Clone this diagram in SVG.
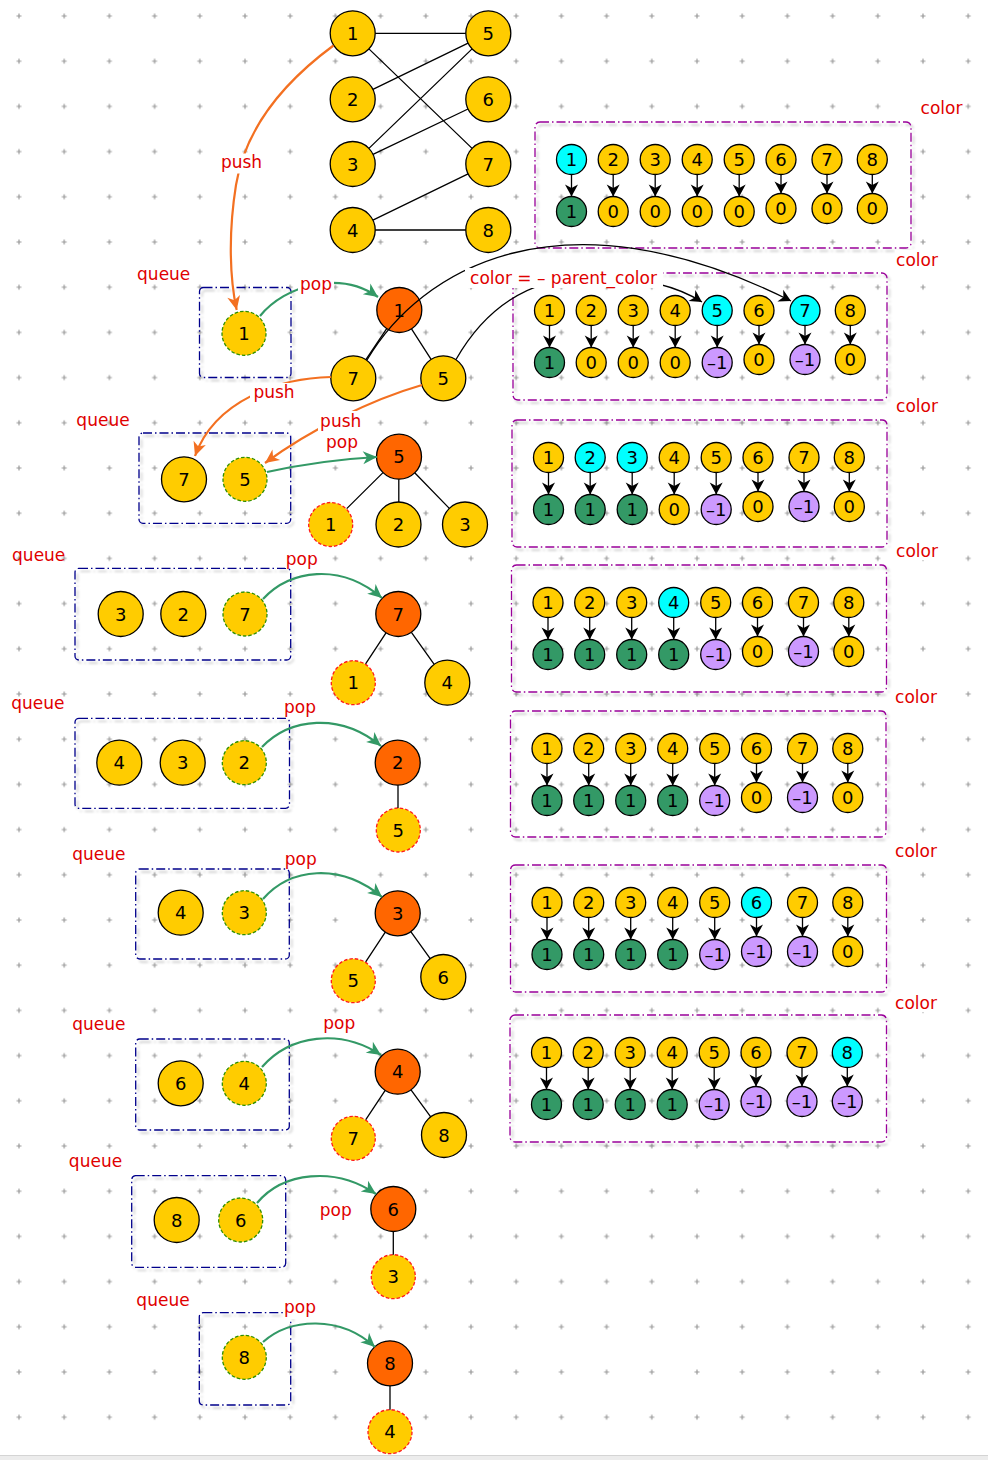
<svg xmlns="http://www.w3.org/2000/svg" width="988" height="1460" viewBox="0 0 988 1460">
<style>
  circle{stroke:#000;stroke-width:1.3}
  .y{fill:#ffcc00}
  .o{fill:#ff6600}
  .c{fill:#00ffff}
  .g{fill:#339966}
  .p{fill:#cc99ff}
  .dg{stroke:#2f8f00;stroke-dasharray:3.5 2}
  .dr{stroke:#ff1a1a;stroke-dasharray:3.5 2}
  text{font-family:"DejaVu Sans","Liberation Sans",sans-serif}
  .n{font-size:18px;text-anchor:middle;fill:#000}
  .l{font-size:17px;text-anchor:middle;fill:#e00000}
  .qb{fill:none;stroke:#00008b;stroke-width:1.3;stroke-dasharray:9 3 1.5 3;filter:url(#sh)}
  .cb{fill:none;stroke:#990099;stroke-width:1.3;stroke-dasharray:9 3 1.5 3;filter:url(#sh)}
  .e{fill:none;stroke:#000;stroke-width:1.3}
  .ar{fill:none;stroke:#000;stroke-width:1.3;marker-end:url(#ak)}
  .pop{fill:none;stroke:#339966;stroke-width:2.2;marker-end:url(#ag)}
  .push{fill:none;stroke:#f37021;stroke-width:2.2;marker-end:url(#ao)}
  .bg{fill:#fff}
</style>
<defs>
  <pattern id="grid" patternUnits="userSpaceOnUse" x="-3.6" y="-6.6" width="45.2" height="45.2">
    <path d="M20.1,22.6h5M22.6,20.1v5" stroke="#9a9a9a" stroke-width="1.2"/>
  </pattern>
  <filter id="sh" x="-5%" y="-5%" width="115%" height="120%">
    <feDropShadow dx="2.5" dy="3" stdDeviation="1.2" flood-color="#000" flood-opacity="0.22"/>
  </filter>
  <marker id="ak" markerUnits="userSpaceOnUse" markerWidth="14" markerHeight="14" refX="12" refY="7" orient="auto" overflow="visible">
    <path d="M0,0.5L12,7L0,13.5L3.5,7Z" fill="#000"/>
  </marker>
  <marker id="ag" markerUnits="userSpaceOnUse" markerWidth="16" markerHeight="14" refX="14" refY="7" orient="auto" overflow="visible">
    <path d="M0,0.5L14,7L0,13.5L4,7Z" fill="#339966"/>
  </marker>
  <marker id="ao" markerUnits="userSpaceOnUse" markerWidth="16" markerHeight="14" refX="14" refY="7" orient="auto" overflow="visible">
    <path d="M0,0.5L14,7L0,13.5L4,7Z" fill="#f37021"/>
  </marker>
  <!-- the eight index -> colour arrows of one colour array -->
  <g id="col-arrows">
    <path class="ar" d="M36.5,52.5V74.5"/>
    <path class="ar" d="M78.2,52.5V74.5"/>
    <path class="ar" d="M120.2,52.5V74.5"/>
    <path class="ar" d="M162.2,52.5V74.5"/>
    <path class="ar" d="M204.2,52.5V74.5"/>
    <path class="ar" d="M246,52.5V71.5"/>
    <path class="ar" d="M292,52.5V71.5"/>
    <path class="ar" d="M337.3,52.5V71.5"/>
  </g>
</defs>

<rect width="988" height="1460" fill="#fff"/>
<rect width="988" height="1460" fill="url(#grid)"/>
<rect x="0" y="1455" width="988" height="5" fill="#ececec"/>
<path d="M0,1455.5H988" stroke="#d4d4d4" stroke-width="1"/>

<!-- bipartite graph -->
<g id="graph">
  <g id="g-1"><circle class="y" cx="352.7" cy="33.3" r="22.5"/><text class="n" x="352.7" y="39.8">1</text></g>
  <g id="g-2"><circle class="y" cx="352.7" cy="99.3" r="22.5"/><text class="n" x="352.7" y="105.8">2</text></g>
  <g id="g-3"><circle class="y" cx="352.7" cy="164" r="22.5"/><text class="n" x="352.7" y="170.5">3</text></g>
  <g id="g-4"><circle class="y" cx="352.7" cy="230" r="22.5"/><text class="n" x="352.7" y="236.5">4</text></g>
  <g id="g-5"><circle class="y" cx="488.3" cy="33.3" r="22.5"/><text class="n" x="488.3" y="39.8">5</text></g>
  <g id="g-6"><circle class="y" cx="488.3" cy="99.3" r="22.5"/><text class="n" x="488.3" y="105.8">6</text></g>
  <g id="g-7"><circle class="y" cx="488.3" cy="164" r="22.5"/><text class="n" x="488.3" y="170.5">7</text></g>
  <g id="g-8"><circle class="y" cx="488.3" cy="230" r="22.5"/><text class="n" x="488.3" y="236.5">8</text></g>
</g>

<!-- queues -->
<g id="queue-1">
  <rect class="qb" x="199.5" y="287.5" width="91.5" height="90" rx="4"/>
  <g id="q1-1"><circle class="y dg" cx="244" cy="333.3" r="22"/><text class="n" x="244" y="339.8">1</text></g>
</g>
<g id="queue-2">
  <rect class="qb" x="139" y="433" width="151.7" height="90.3" rx="4"/>
  <g id="q2-7"><circle class="y" cx="184" cy="479.3" r="22.5"/><text class="n" x="184" y="485.8">7</text></g>
  <g id="q2-5"><circle class="y dg" cx="245" cy="479.3" r="22"/><text class="n" x="245" y="485.8">5</text></g>
</g>
<g id="queue-3">
  <rect class="qb" x="75" y="568.3" width="215.7" height="91.7" rx="4"/>
  <g id="q3-3"><circle class="y" cx="120.7" cy="614" r="22.5"/><text class="n" x="120.7" y="620.5">3</text></g>
  <g id="q3-2"><circle class="y" cx="183.3" cy="614" r="22.5"/><text class="n" x="183.3" y="620.5">2</text></g>
  <g id="q3-7"><circle class="y dg" cx="245" cy="614" r="22"/><text class="n" x="245" y="620.5">7</text></g>
</g>
<g id="queue-4">
  <rect class="qb" x="75" y="718.3" width="214.5" height="90" rx="4"/>
  <g id="q4-4"><circle class="y" cx="119.3" cy="762.7" r="22.5"/><text class="n" x="119.3" y="769.2">4</text></g>
  <g id="q4-3"><circle class="y" cx="182.7" cy="762.7" r="22.5"/><text class="n" x="182.7" y="769.2">3</text></g>
  <g id="q4-2"><circle class="y dg" cx="244.3" cy="762.7" r="22"/><text class="n" x="244.3" y="769.2">2</text></g>
</g>
<g id="queue-5">
  <rect class="qb" x="135.7" y="869" width="153.6" height="90" rx="4"/>
  <g id="q5-4"><circle class="y" cx="180.7" cy="912.7" r="22.5"/><text class="n" x="180.7" y="919.2">4</text></g>
  <g id="q5-3"><circle class="y dg" cx="244.3" cy="912.7" r="22"/><text class="n" x="244.3" y="919.2">3</text></g>
</g>
<g id="queue-6">
  <rect class="qb" x="135.7" y="1039" width="153.6" height="91" rx="4"/>
  <g id="q6-6"><circle class="y" cx="180.7" cy="1083.3" r="22.5"/><text class="n" x="180.7" y="1089.8">6</text></g>
  <g id="q6-4"><circle class="y dg" cx="244.3" cy="1083.3" r="22"/><text class="n" x="244.3" y="1089.8">4</text></g>
</g>
<g id="queue-7">
  <rect class="qb" x="131.7" y="1175.7" width="154" height="91.6" rx="4"/>
  <g id="q7-8"><circle class="y" cx="176.7" cy="1220" r="22.5"/><text class="n" x="176.7" y="1226.5">8</text></g>
  <g id="q7-6"><circle class="y dg" cx="240.7" cy="1220" r="22"/><text class="n" x="240.7" y="1226.5">6</text></g>
</g>
<g id="queue-8">
  <rect class="qb" x="199.3" y="1312.7" width="91.4" height="92.3" rx="4"/>
  <g id="q8-8"><circle class="y dg" cx="244.3" cy="1357.3" r="22"/><text class="n" x="244.3" y="1363.8">8</text></g>
</g>

<!-- popped vertex and its neighbours -->
<g id="tree-1">
  <g id="t1-1"><circle class="o" cx="399.3" cy="310" r="22.5"/><text class="n" x="399.3" y="316.5">1</text></g>
  <g id="t1-7"><circle class="y" cx="353.3" cy="378.3" r="22.5"/><text class="n" x="353.3" y="384.8">7</text></g>
  <g id="t1-5"><circle class="y" cx="443.3" cy="378.3" r="22.5"/><text class="n" x="443.3" y="384.8">5</text></g>
</g>
<g id="tree-2">
  <g id="t2-5"><circle class="o" cx="399" cy="456.7" r="22.5"/><text class="n" x="399" y="463.2">5</text></g>
  <g id="t2-1"><circle class="y dr" cx="330.7" cy="524.5" r="22"/><text class="n" x="330.7" y="531">1</text></g>
  <g id="t2-2"><circle class="y" cx="398.5" cy="524.5" r="22.5"/><text class="n" x="398.5" y="531">2</text></g>
  <g id="t2-3"><circle class="y" cx="465" cy="524.5" r="22.5"/><text class="n" x="465" y="531">3</text></g>
</g>
<g id="tree-3">
  <g id="t3-7"><circle class="o" cx="398.3" cy="614" r="22.5"/><text class="n" x="398.3" y="620.5">7</text></g>
  <g id="t3-1"><circle class="y dr" cx="353.3" cy="682.7" r="22"/><text class="n" x="353.3" y="689.2">1</text></g>
  <g id="t3-4"><circle class="y" cx="447.3" cy="682.7" r="22.5"/><text class="n" x="447.3" y="689.2">4</text></g>
</g>
<g id="tree-4">
  <g id="t4-2"><circle class="o" cx="397.7" cy="762.7" r="22.5"/><text class="n" x="397.7" y="769.2">2</text></g>
  <g id="t4-5"><circle class="y dr" cx="398.3" cy="830" r="22"/><text class="n" x="398.3" y="836.5">5</text></g>
</g>
<g id="tree-5">
  <g id="t5-3"><circle class="o" cx="397.7" cy="913.3" r="22.5"/><text class="n" x="397.7" y="919.8">3</text></g>
  <g id="t5-5"><circle class="y dr" cx="353.3" cy="980.7" r="22"/><text class="n" x="353.3" y="987.2">5</text></g>
  <g id="t5-6"><circle class="y" cx="443.3" cy="977" r="22.5"/><text class="n" x="443.3" y="983.5">6</text></g>
</g>
<g id="tree-6">
  <g id="t6-4"><circle class="o" cx="397.7" cy="1071.7" r="22.5"/><text class="n" x="397.7" y="1078.2">4</text></g>
  <g id="t6-7"><circle class="y dr" cx="353.3" cy="1138.3" r="22"/><text class="n" x="353.3" y="1144.8">7</text></g>
  <g id="t6-8"><circle class="y" cx="444" cy="1135" r="22.5"/><text class="n" x="444" y="1141.5">8</text></g>
</g>
<g id="tree-7">
  <g id="t7-6"><circle class="o" cx="393.3" cy="1209" r="22.5"/><text class="n" x="393.3" y="1215.5">6</text></g>
  <g id="t7-3"><circle class="y dr" cx="393.3" cy="1276.7" r="22"/><text class="n" x="393.3" y="1283.2">3</text></g>
</g>
<g id="tree-8">
  <g id="t8-8"><circle class="o" cx="390" cy="1363.3" r="22.5"/><text class="n" x="390" y="1369.8">8</text></g>
  <g id="t8-4"><circle class="y dr" cx="390" cy="1431.7" r="22"/><text class="n" x="390" y="1438.2">4</text></g>
</g>

<!-- colour arrays: index row on top, colour value row below -->
<g id="colors-1" transform="translate(535,122)">
  <rect class="cb" width="376" height="126" rx="5"/>
  <g id="c1-i1"><circle class="c" cx="36.5" cy="37.5" r="15"/><text class="n" x="36.5" y="44">1</text></g>
  <g id="c1-i2"><circle class="y" cx="78.2" cy="37.5" r="15"/><text class="n" x="78.2" y="44">2</text></g>
  <g id="c1-i3"><circle class="y" cx="120.2" cy="37.5" r="15"/><text class="n" x="120.2" y="44">3</text></g>
  <g id="c1-i4"><circle class="y" cx="162.2" cy="37.5" r="15"/><text class="n" x="162.2" y="44">4</text></g>
  <g id="c1-i5"><circle class="y" cx="204.2" cy="37.5" r="15"/><text class="n" x="204.2" y="44">5</text></g>
  <g id="c1-i6"><circle class="y" cx="246" cy="37.5" r="15"/><text class="n" x="246" y="44">6</text></g>
  <g id="c1-i7"><circle class="y" cx="292" cy="37.5" r="15"/><text class="n" x="292" y="44">7</text></g>
  <g id="c1-i8"><circle class="y" cx="337.3" cy="37.5" r="15"/><text class="n" x="337.3" y="44">8</text></g>
  <g id="c1-v1"><circle class="g" cx="36.5" cy="89.5" r="15"/><text class="n" x="36.5" y="96">1</text></g>
  <g id="c1-v2"><circle class="y" cx="78.2" cy="89.5" r="15"/><text class="n" x="78.2" y="96">0</text></g>
  <g id="c1-v3"><circle class="y" cx="120.2" cy="89.5" r="15"/><text class="n" x="120.2" y="96">0</text></g>
  <g id="c1-v4"><circle class="y" cx="162.2" cy="89.5" r="15"/><text class="n" x="162.2" y="96">0</text></g>
  <g id="c1-v5"><circle class="y" cx="204.2" cy="89.5" r="15"/><text class="n" x="204.2" y="96">0</text></g>
  <g id="c1-v6"><circle class="y" cx="246" cy="86.5" r="15"/><text class="n" x="246" y="93">0</text></g>
  <g id="c1-v7"><circle class="y" cx="292" cy="86.5" r="15"/><text class="n" x="292" y="93">0</text></g>
  <g id="c1-v8"><circle class="y" cx="337.3" cy="86.5" r="15"/><text class="n" x="337.3" y="93">0</text></g>
</g>
<g id="colors-2" transform="translate(513,273)">
  <rect class="cb" width="374" height="127" rx="5"/>
  <g id="c2-i1"><circle class="y" cx="36.5" cy="37.5" r="15"/><text class="n" x="36.5" y="44">1</text></g>
  <g id="c2-i2"><circle class="y" cx="78.2" cy="37.5" r="15"/><text class="n" x="78.2" y="44">2</text></g>
  <g id="c2-i3"><circle class="y" cx="120.2" cy="37.5" r="15"/><text class="n" x="120.2" y="44">3</text></g>
  <g id="c2-i4"><circle class="y" cx="162.2" cy="37.5" r="15"/><text class="n" x="162.2" y="44">4</text></g>
  <g id="c2-i5"><circle class="c" cx="204.2" cy="37.5" r="15"/><text class="n" x="204.2" y="44">5</text></g>
  <g id="c2-i6"><circle class="y" cx="246" cy="37.5" r="15"/><text class="n" x="246" y="44">6</text></g>
  <g id="c2-i7"><circle class="c" cx="292" cy="37.5" r="15"/><text class="n" x="292" y="44">7</text></g>
  <g id="c2-i8"><circle class="y" cx="337.3" cy="37.5" r="15"/><text class="n" x="337.3" y="44">8</text></g>
  <g id="c2-v1"><circle class="g" cx="36.5" cy="89.5" r="15"/><text class="n" x="36.5" y="96">1</text></g>
  <g id="c2-v2"><circle class="y" cx="78.2" cy="89.5" r="15"/><text class="n" x="78.2" y="96">0</text></g>
  <g id="c2-v3"><circle class="y" cx="120.2" cy="89.5" r="15"/><text class="n" x="120.2" y="96">0</text></g>
  <g id="c2-v4"><circle class="y" cx="162.2" cy="89.5" r="15"/><text class="n" x="162.2" y="96">0</text></g>
  <g id="c2-v5"><circle class="p" cx="204.2" cy="89.5" r="15"/><text class="n" x="204.2" y="96">–1</text></g>
  <g id="c2-v6"><circle class="y" cx="246" cy="86.5" r="15"/><text class="n" x="246" y="93">0</text></g>
  <g id="c2-v7"><circle class="p" cx="292" cy="86.5" r="15"/><text class="n" x="292" y="93">–1</text></g>
  <g id="c2-v8"><circle class="y" cx="337.3" cy="86.5" r="15"/><text class="n" x="337.3" y="93">0</text></g>
</g>
<g id="colors-3" transform="translate(512,420)">
  <rect class="cb" width="375" height="127" rx="5"/>
  <g id="c3-i1"><circle class="y" cx="36.5" cy="37.5" r="15"/><text class="n" x="36.5" y="44">1</text></g>
  <g id="c3-i2"><circle class="c" cx="78.2" cy="37.5" r="15"/><text class="n" x="78.2" y="44">2</text></g>
  <g id="c3-i3"><circle class="c" cx="120.2" cy="37.5" r="15"/><text class="n" x="120.2" y="44">3</text></g>
  <g id="c3-i4"><circle class="y" cx="162.2" cy="37.5" r="15"/><text class="n" x="162.2" y="44">4</text></g>
  <g id="c3-i5"><circle class="y" cx="204.2" cy="37.5" r="15"/><text class="n" x="204.2" y="44">5</text></g>
  <g id="c3-i6"><circle class="y" cx="246" cy="37.5" r="15"/><text class="n" x="246" y="44">6</text></g>
  <g id="c3-i7"><circle class="y" cx="292" cy="37.5" r="15"/><text class="n" x="292" y="44">7</text></g>
  <g id="c3-i8"><circle class="y" cx="337.3" cy="37.5" r="15"/><text class="n" x="337.3" y="44">8</text></g>
  <g id="c3-v1"><circle class="g" cx="36.5" cy="89.5" r="15"/><text class="n" x="36.5" y="96">1</text></g>
  <g id="c3-v2"><circle class="g" cx="78.2" cy="89.5" r="15"/><text class="n" x="78.2" y="96">1</text></g>
  <g id="c3-v3"><circle class="g" cx="120.2" cy="89.5" r="15"/><text class="n" x="120.2" y="96">1</text></g>
  <g id="c3-v4"><circle class="y" cx="162.2" cy="89.5" r="15"/><text class="n" x="162.2" y="96">0</text></g>
  <g id="c3-v5"><circle class="p" cx="204.2" cy="89.5" r="15"/><text class="n" x="204.2" y="96">–1</text></g>
  <g id="c3-v6"><circle class="y" cx="246" cy="86.5" r="15"/><text class="n" x="246" y="93">0</text></g>
  <g id="c3-v7"><circle class="p" cx="292" cy="86.5" r="15"/><text class="n" x="292" y="93">–1</text></g>
  <g id="c3-v8"><circle class="y" cx="337.3" cy="86.5" r="15"/><text class="n" x="337.3" y="93">0</text></g>
</g>
<g id="colors-4" transform="translate(511.5,565)">
  <rect class="cb" width="375" height="127" rx="5"/>
  <g id="c4-i1"><circle class="y" cx="36.5" cy="37.5" r="15"/><text class="n" x="36.5" y="44">1</text></g>
  <g id="c4-i2"><circle class="y" cx="78.2" cy="37.5" r="15"/><text class="n" x="78.2" y="44">2</text></g>
  <g id="c4-i3"><circle class="y" cx="120.2" cy="37.5" r="15"/><text class="n" x="120.2" y="44">3</text></g>
  <g id="c4-i4"><circle class="c" cx="162.2" cy="37.5" r="15"/><text class="n" x="162.2" y="44">4</text></g>
  <g id="c4-i5"><circle class="y" cx="204.2" cy="37.5" r="15"/><text class="n" x="204.2" y="44">5</text></g>
  <g id="c4-i6"><circle class="y" cx="246" cy="37.5" r="15"/><text class="n" x="246" y="44">6</text></g>
  <g id="c4-i7"><circle class="y" cx="292" cy="37.5" r="15"/><text class="n" x="292" y="44">7</text></g>
  <g id="c4-i8"><circle class="y" cx="337.3" cy="37.5" r="15"/><text class="n" x="337.3" y="44">8</text></g>
  <g id="c4-v1"><circle class="g" cx="36.5" cy="89.5" r="15"/><text class="n" x="36.5" y="96">1</text></g>
  <g id="c4-v2"><circle class="g" cx="78.2" cy="89.5" r="15"/><text class="n" x="78.2" y="96">1</text></g>
  <g id="c4-v3"><circle class="g" cx="120.2" cy="89.5" r="15"/><text class="n" x="120.2" y="96">1</text></g>
  <g id="c4-v4"><circle class="g" cx="162.2" cy="89.5" r="15"/><text class="n" x="162.2" y="96">1</text></g>
  <g id="c4-v5"><circle class="p" cx="204.2" cy="89.5" r="15"/><text class="n" x="204.2" y="96">–1</text></g>
  <g id="c4-v6"><circle class="y" cx="246" cy="86.5" r="15"/><text class="n" x="246" y="93">0</text></g>
  <g id="c4-v7"><circle class="p" cx="292" cy="86.5" r="15"/><text class="n" x="292" y="93">–1</text></g>
  <g id="c4-v8"><circle class="y" cx="337.3" cy="86.5" r="15"/><text class="n" x="337.3" y="93">0</text></g>
</g>
<g id="colors-5" transform="translate(510.5,711)">
  <rect class="cb" width="375.5" height="126" rx="5"/>
  <g id="c5-i1"><circle class="y" cx="36.5" cy="37.5" r="15"/><text class="n" x="36.5" y="44">1</text></g>
  <g id="c5-i2"><circle class="y" cx="78.2" cy="37.5" r="15"/><text class="n" x="78.2" y="44">2</text></g>
  <g id="c5-i3"><circle class="y" cx="120.2" cy="37.5" r="15"/><text class="n" x="120.2" y="44">3</text></g>
  <g id="c5-i4"><circle class="y" cx="162.2" cy="37.5" r="15"/><text class="n" x="162.2" y="44">4</text></g>
  <g id="c5-i5"><circle class="y" cx="204.2" cy="37.5" r="15"/><text class="n" x="204.2" y="44">5</text></g>
  <g id="c5-i6"><circle class="y" cx="246" cy="37.5" r="15"/><text class="n" x="246" y="44">6</text></g>
  <g id="c5-i7"><circle class="y" cx="292" cy="37.5" r="15"/><text class="n" x="292" y="44">7</text></g>
  <g id="c5-i8"><circle class="y" cx="337.3" cy="37.5" r="15"/><text class="n" x="337.3" y="44">8</text></g>
  <g id="c5-v1"><circle class="g" cx="36.5" cy="89.5" r="15"/><text class="n" x="36.5" y="96">1</text></g>
  <g id="c5-v2"><circle class="g" cx="78.2" cy="89.5" r="15"/><text class="n" x="78.2" y="96">1</text></g>
  <g id="c5-v3"><circle class="g" cx="120.2" cy="89.5" r="15"/><text class="n" x="120.2" y="96">1</text></g>
  <g id="c5-v4"><circle class="g" cx="162.2" cy="89.5" r="15"/><text class="n" x="162.2" y="96">1</text></g>
  <g id="c5-v5"><circle class="p" cx="204.2" cy="89.5" r="15"/><text class="n" x="204.2" y="96">–1</text></g>
  <g id="c5-v6"><circle class="y" cx="246" cy="86.5" r="15"/><text class="n" x="246" y="93">0</text></g>
  <g id="c5-v7"><circle class="p" cx="292" cy="86.5" r="15"/><text class="n" x="292" y="93">–1</text></g>
  <g id="c5-v8"><circle class="y" cx="337.3" cy="86.5" r="15"/><text class="n" x="337.3" y="93">0</text></g>
</g>
<g id="colors-6" transform="translate(510.5,865)">
  <rect class="cb" width="376" height="127" rx="5"/>
  <g id="c6-i1"><circle class="y" cx="36.5" cy="37.5" r="15"/><text class="n" x="36.5" y="44">1</text></g>
  <g id="c6-i2"><circle class="y" cx="78.2" cy="37.5" r="15"/><text class="n" x="78.2" y="44">2</text></g>
  <g id="c6-i3"><circle class="y" cx="120.2" cy="37.5" r="15"/><text class="n" x="120.2" y="44">3</text></g>
  <g id="c6-i4"><circle class="y" cx="162.2" cy="37.5" r="15"/><text class="n" x="162.2" y="44">4</text></g>
  <g id="c6-i5"><circle class="y" cx="204.2" cy="37.5" r="15"/><text class="n" x="204.2" y="44">5</text></g>
  <g id="c6-i6"><circle class="c" cx="246" cy="37.5" r="15"/><text class="n" x="246" y="44">6</text></g>
  <g id="c6-i7"><circle class="y" cx="292" cy="37.5" r="15"/><text class="n" x="292" y="44">7</text></g>
  <g id="c6-i8"><circle class="y" cx="337.3" cy="37.5" r="15"/><text class="n" x="337.3" y="44">8</text></g>
  <g id="c6-v1"><circle class="g" cx="36.5" cy="89.5" r="15"/><text class="n" x="36.5" y="96">1</text></g>
  <g id="c6-v2"><circle class="g" cx="78.2" cy="89.5" r="15"/><text class="n" x="78.2" y="96">1</text></g>
  <g id="c6-v3"><circle class="g" cx="120.2" cy="89.5" r="15"/><text class="n" x="120.2" y="96">1</text></g>
  <g id="c6-v4"><circle class="g" cx="162.2" cy="89.5" r="15"/><text class="n" x="162.2" y="96">1</text></g>
  <g id="c6-v5"><circle class="p" cx="204.2" cy="89.5" r="15"/><text class="n" x="204.2" y="96">–1</text></g>
  <g id="c6-v6"><circle class="p" cx="246" cy="86.5" r="15"/><text class="n" x="246" y="93">–1</text></g>
  <g id="c6-v7"><circle class="p" cx="292" cy="86.5" r="15"/><text class="n" x="292" y="93">–1</text></g>
  <g id="c6-v8"><circle class="y" cx="337.3" cy="86.5" r="15"/><text class="n" x="337.3" y="93">0</text></g>
</g>
<g id="colors-7" transform="translate(510,1015)">
  <rect class="cb" width="376.5" height="127" rx="5"/>
  <g id="c7-i1"><circle class="y" cx="36.5" cy="37.5" r="15"/><text class="n" x="36.5" y="44">1</text></g>
  <g id="c7-i2"><circle class="y" cx="78.2" cy="37.5" r="15"/><text class="n" x="78.2" y="44">2</text></g>
  <g id="c7-i3"><circle class="y" cx="120.2" cy="37.5" r="15"/><text class="n" x="120.2" y="44">3</text></g>
  <g id="c7-i4"><circle class="y" cx="162.2" cy="37.5" r="15"/><text class="n" x="162.2" y="44">4</text></g>
  <g id="c7-i5"><circle class="y" cx="204.2" cy="37.5" r="15"/><text class="n" x="204.2" y="44">5</text></g>
  <g id="c7-i6"><circle class="y" cx="246" cy="37.5" r="15"/><text class="n" x="246" y="44">6</text></g>
  <g id="c7-i7"><circle class="y" cx="292" cy="37.5" r="15"/><text class="n" x="292" y="44">7</text></g>
  <g id="c7-i8"><circle class="c" cx="337.3" cy="37.5" r="15"/><text class="n" x="337.3" y="44">8</text></g>
  <g id="c7-v1"><circle class="g" cx="36.5" cy="89.5" r="15"/><text class="n" x="36.5" y="96">1</text></g>
  <g id="c7-v2"><circle class="g" cx="78.2" cy="89.5" r="15"/><text class="n" x="78.2" y="96">1</text></g>
  <g id="c7-v3"><circle class="g" cx="120.2" cy="89.5" r="15"/><text class="n" x="120.2" y="96">1</text></g>
  <g id="c7-v4"><circle class="g" cx="162.2" cy="89.5" r="15"/><text class="n" x="162.2" y="96">1</text></g>
  <g id="c7-v5"><circle class="p" cx="204.2" cy="89.5" r="15"/><text class="n" x="204.2" y="96">–1</text></g>
  <g id="c7-v6"><circle class="p" cx="246" cy="86.5" r="15"/><text class="n" x="246" y="93">–1</text></g>
  <g id="c7-v7"><circle class="p" cx="292" cy="86.5" r="15"/><text class="n" x="292" y="93">–1</text></g>
  <g id="c7-v8"><circle class="p" cx="337.3" cy="86.5" r="15"/><text class="n" x="337.3" y="93">–1</text></g>
</g>

<!-- edges, arrows and their labels -->
<g id="connectors">
  <!-- bipartite edges -->
  <path class="e" d="M375.2,33.3H465.8M368.9,48.9L472.1,148.4M372.9,89.4L468.1,43.2M368.9,148.4L472.1,48.9M373,154.3L468,109M372.9,220.1L468.1,173.9M375.2,230H465.8"/>
  <!-- tree edges -->
  <path class="e" d="M386.7,328.7L365.9,359.6M411.5,328.9L431.1,359.4"/>
  <path class="e" d="M383,472.6L346.7,508.6M398.8,479.2V502M414.7,472.8L449.3,508.4"/>
  <path class="e" d="M386,632.8L365.6,663.9M411.4,632.3L434.2,664.4"/>
  <path class="e" d="M398,785.2V808"/>
  <path class="e" d="M385.3,932.1L365.7,961.9M410.8,931.6L430.2,958.7"/>
  <path class="e" d="M385.2,1090.4L365.8,1119.6M411,1089.9L430.7,1116.8"/>
  <path class="e" d="M393.3,1231.5V1254.7"/>
  <path class="e" d="M390,1385.8V1409.7"/>

  <!-- index -> colour arrows -->
  <use href="#col-arrows" transform="translate(535,122)"/>
  <use href="#col-arrows" transform="translate(513,273)"/>
  <use href="#col-arrows" transform="translate(512,420)"/>
  <use href="#col-arrows" transform="translate(511.5,565)"/>
  <use href="#col-arrows" transform="translate(510.5,711)"/>
  <use href="#col-arrows" transform="translate(510.5,865)"/>
  <use href="#col-arrows" transform="translate(510,1015)"/>

  <!-- push arrows -->
  <path class="push" d="M333.5,45.5C280,85 245,130 236,185C228,235 230,280 236.7,310"/>
  <path class="push" d="M331,377C280,378 215,400 195,456"/>
  <path class="push" d="M422,385C370,400 310,430 265,463"/>

  <!-- pop arrows -->
  <path class="pop" d="M260,316C285,285 340,270 378,297"/>
  <path class="pop" d="M267,472Q322,460 377,457"/>
  <path class="pop" d="M263,599C290,570 340,562 382,598"/>
  <path class="pop" d="M262,747C290,718 340,712 381,746"/>
  <path class="pop" d="M263,899C290,868 340,862 382,897"/>
  <path class="pop" d="M262,1067C290,1035 340,1028 381,1055"/>
  <path class="pop" d="M257,1203C283,1172 335,1166 376,1194"/>
  <path class="pop" d="M263,1342C290,1318 340,1315 375,1347"/>

  <!-- neighbour colour assignment -->
  <path class="ar" d="M367,360C420,270 560,185 791,301"/>
  <path class="ar" d="M456,359.5C490,300 540,275 600,277C650,278 680,288 702,302"/>

  <!-- edge labels -->
  <rect class="bg" x="219.5" y="153.5" width="44" height="20"/>
  <text class="l" x="241.5" y="168.3">push</text>
  <rect class="bg" x="298" y="276" width="36" height="18"/>
  <text class="l" x="316" y="289.5">pop</text>
  <rect class="bg" x="465" y="268" width="198" height="20"/>
  <text class="l" x="563.5" y="283.5">color = – parent_color</text>
  <rect class="bg" x="250" y="383" width="48" height="19"/>
  <text class="l" x="274" y="397.7">push</text>
  <rect class="bg" x="318" y="411" width="45" height="20"/>
  <text class="l" x="340.7" y="426.5">push</text>
  <rect class="bg" x="325" y="434" width="35" height="18"/>
  <text class="l" x="342" y="448">pop</text>
  <rect class="bg" x="285" y="551" width="34" height="17"/>
  <text class="l" x="301.7" y="565">pop</text>
  <rect class="bg" x="283" y="699" width="34" height="17"/>
  <text class="l" x="300" y="713">pop</text>
  <rect class="bg" x="284" y="851" width="34" height="17"/>
  <text class="l" x="300.7" y="864.5">pop</text>
  <rect class="bg" x="322" y="1015" width="34" height="17"/>
  <text class="l" x="339.3" y="1028.5">pop</text>
  <rect class="bg" x="319" y="1203" width="34" height="17"/>
  <text class="l" x="335.7" y="1216">pop</text>
  <rect class="bg" x="283" y="1299" width="34" height="20"/>
  <text class="l" x="300" y="1312.7">pop</text>
</g>

<!-- captions -->
<g id="captions">
  <text class="l" x="163.7" y="280">queue</text>
  <text class="l" x="103" y="426">queue</text>
  <text class="l" x="38.7" y="561">queue</text>
  <text class="l" x="37.8" y="709">queue</text>
  <text class="l" x="98.8" y="860">queue</text>
  <text class="l" x="98.8" y="1030">queue</text>
  <text class="l" x="95.5" y="1167">queue</text>
  <text class="l" x="163" y="1305.5">queue</text>
  <rect class="bg" x="919.5" y="98" width="44" height="19"/>
  <text class="l" x="941.5" y="113.5">color</text>
  <rect class="bg" x="895" y="250" width="44" height="19"/>
  <text class="l" x="917" y="265.5">color</text>
  <rect class="bg" x="895" y="396" width="44" height="19"/>
  <text class="l" x="917" y="411.5">color</text>
  <rect class="bg" x="895" y="541" width="44" height="19"/>
  <text class="l" x="917" y="556.5">color</text>
  <rect class="bg" x="894" y="687" width="44" height="19"/>
  <text class="l" x="916" y="702.5">color</text>
  <rect class="bg" x="894" y="841" width="44" height="19"/>
  <text class="l" x="916" y="857">color</text>
  <rect class="bg" x="894" y="993" width="44" height="19"/>
  <text class="l" x="916" y="1008.5">color</text>
</g>
</svg>
